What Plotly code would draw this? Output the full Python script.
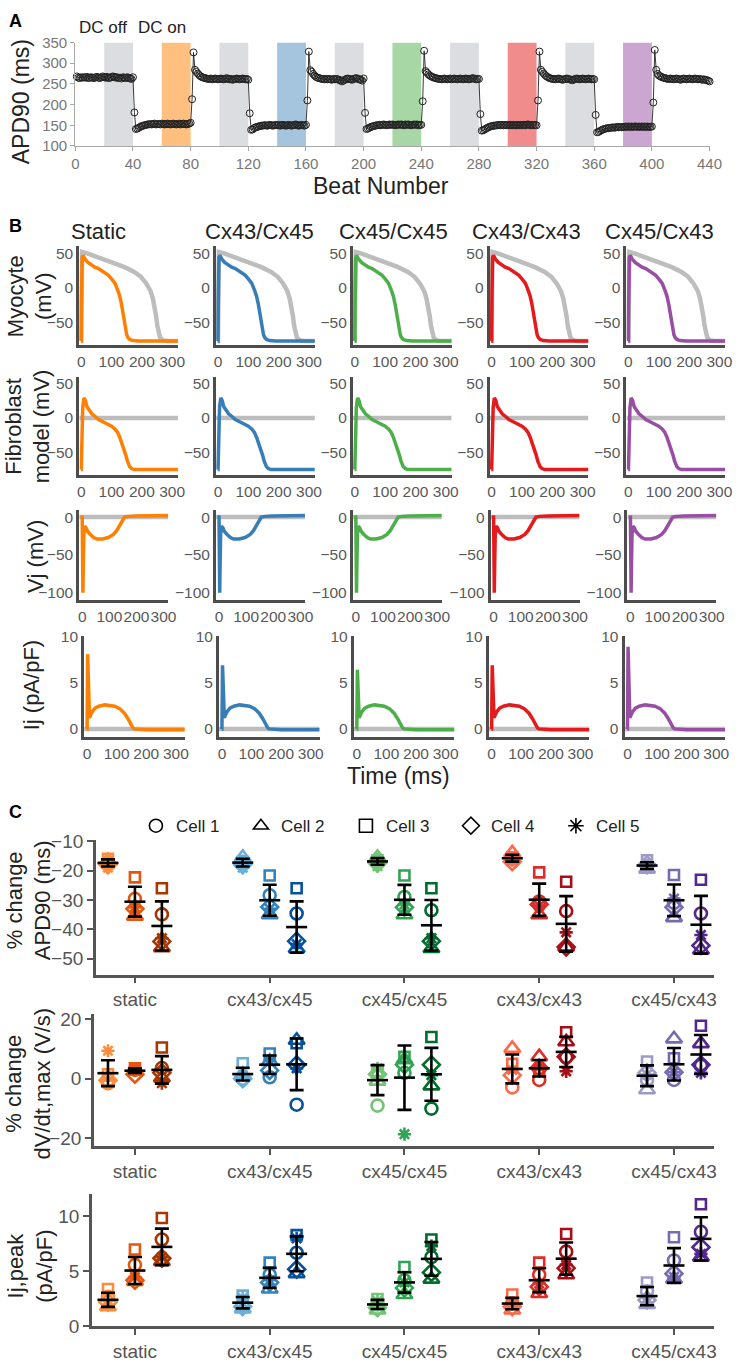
import plotly.graph_objects as go
import numpy as np

W, H = 745, 1368

# ---------------- Panel A data ----------------
beats = list(range(1, 441))
apd90 = (
    [268,265,264,266,265,266,265,267,264,265,266,265,264,266,267,265,264,266,268,266,
     265,267,264,265,266,268,267,265,266,264,265,263,266,265,264,266,265,263,262,266]
  + [181,141,142,144,146,148,149,150,151,152,152,153,152,153,154,152,153,153,152,154,
     153,152,153,154,153,152,153,154,153,152,153,154,152,153,154,153,152,153,154,156]
  + [213,326,284,279,275,271,268,266,265,264,263,262,262,263,261,262,263,262,261,262,
     263,262,261,262,264,262,261,262,260,261,262,263,262,261,262,263,262,261,262,260]
  + [179,139,140,143,145,146,147,148,149,149,150,150,149,150,151,150,149,150,151,150,
     151,149,150,151,150,149,150,151,150,149,150,151,152,150,149,150,151,150,149,151]
  + [210,328,283,279,274,270,267,265,264,263,262,262,261,262,261,262,261,260,262,261,
     262,261,260,258,256,258,260,262,263,262,261,260,262,263,264,262,261,260,258,263]
  + [180,141,142,144,146,147,148,149,150,150,151,150,151,152,151,150,151,152,151,152,
     151,150,151,152,151,152,151,150,152,151,152,151,150,151,152,151,152,150,151,151]
  + [208,330,281,277,273,270,268,266,265,264,263,262,262,261,262,263,262,261,262,263,
     261,262,263,262,261,262,263,262,261,262,263,262,261,262,263,264,262,261,262,262]
  + [177,137,138,140,142,144,146,147,148,149,149,150,150,151,150,151,150,151,150,151,
     150,151,150,151,150,150,151,150,151,150,151,150,151,152,151,150,151,150,151,150]
  + [210,328,284,279,275,271,268,266,264,263,262,262,261,262,263,262,261,260,261,262,
     263,262,261,260,259,261,262,263,262,261,262,263,262,261,262,263,262,261,262,261]
  + [175,133,134,136,138,140,141,142,143,143,144,144,145,144,145,146,145,146,145,146,
     146,147,146,147,146,147,146,147,147,146,147,146,147,146,147,146,147,146,146,147]
  + [205,332,284,274,270,268,266,265,264,263,262,262,263,262,261,262,263,262,261,260,
     262,263,262,261,262,263,262,261,262,263,262,261,262,261,260,261,260,259,258,256]
)
assert len(apd90) == 440
off_windows = [20, 100, 180, 260, 340]
on_windows = [60, 140, 220, 300, 380]
window_len = 20

# ---------------- Panel B data ----------------
connexins = ["Static", "Cx43/Cx45", "Cx45/Cx45", "Cx43/Cx43", "Cx45/Cx43"]
cx_colors = ["#ff7f00", "#377eb8", "#4daf4a", "#e41a1c", "#984ea3"]
band_colors = ["rgba(255,127,0,0.5)", "rgba(55,126,184,0.45)", "rgba(77,175,74,0.5)",
               "rgba(228,26,28,0.5)", "rgba(152,78,163,0.5)"]

myo_off_t = [-1, 0, 1, 3, 20, 68, 110, 143, 175, 197, 215, 229, 236, 242, 247, 251, 256, 260, 266, 272, 285, 320]
myo_off_v = [-77, -77, -20, 52, 50, 42, 36, 30, 23, 16, 6, -5, -15, -27, -41, -55, -66, -72, -75, -76.5, -77, -77]
myo_on_t = [-1, 0, 1, 3, 6, 12, 22, 33, 45, 57, 73, 89, 100, 111, 120, 127, 133, 138, 142, 145, 150, 154, 160, 170, 190, 320]
myo_on_v = [-77, -77, -20, 44, 47, 42, 37, 33, 30, 28, 24, 18.6, 13, 6.7, -3, -12, -24, -36, -48, -58, -68, -72, -75, -76.5, -77, -77]

fib_off_t = [-6, 320]
fib_off_v = [0, 0]
fib_on_t = [-1, 0, 2, 5, 9, 14, 19, 27, 35, 46, 57, 73, 89, 100, 111, 120, 127, 134, 141, 147, 152, 156, 160, 166, 175, 320]
fib_on_v = [-75, -75, -40, 15, 29, 25, 16, 10, 6, 2, -2.3, -6, -9, -12, -16, -21, -28, -36, -44, -54, -62.5, -68, -71, -73.5, -75, -75]

vj_off_t = [-11, 317]
vj_off_v = [0, 0]
vj_on_t = [-1, 0, 1, 2.5, 4, 6, 9, 14, 20, 30, 42, 54, 75, 96, 115, 127, 136, 144, 150, 156, 170, 200, 317]
vj_on_v = [0, 2, -40, -100, -60, -22, -12, -14, -19, -23, -27, -29, -29, -27, -23, -18, -12, -7, -3, 0, 1, 1.5, 2]

ij_off_t = [-10, 330]
ij_off_v = [0, 0]
ij_on_t = [-1, 0, 2, 4, 6, 8, 12, 18, 27, 40, 60, 80, 93, 110, 126, 138, 148, 155, 160, 200, 330]
ij_base_v = [0, 0, None, 4.0, 1.6, 1.2, 1.5, 1.9, 2.25, 2.45, 2.6, 2.55, 2.45, 2.2, 1.7, 1.1, 0.46, 0.1, 0.0, -0.08, -0.1]
ij_spike = [8.1, 6.9, 6.4, 6.9, 8.9]

# ---------------- Panel C data ----------------
categories = ["static", "cx43/cx45", "cx45/cx45", "cx43/cx43", "cx45/cx43"]
shades = [["#fd8d3c", "#e6550d", "#a63603"],
          ["#6baed6", "#3182bd", "#08519c"],
          ["#74c476", "#31a354", "#006d2c"],
          ["#fb6a4a", "#de2d26", "#a50f15"],
          ["#9e9ac8", "#756bb1", "#54278f"]]
cell_names = ["Cell 1", "Cell 2", "Cell 3", "Cell 4", "Cell 5"]

# [category][group][cell 1..5]
apd_change = [
    [[-17.5, -16.5, -16.0, -18.0, -19.0], [-29.6, -35.5, -22.3, -33.0, -32.5], [-34.9, -46.2, -26.0, -44.1, -43.0]],
    [[-17.0, -15.5, -17.0, -18.0, -19.0], [-28.4, -35.0, -21.7, -32.4, -33.0], [-34.6, -46.5, -26.0, -44.0, -45.0]],
    [[-16.5, -15.5, -16.5, -17.5, -18.5], [-29.0, -35.0, -21.7, -32.5, -31.5], [-33.5, -46.5, -26.0, -44.0, -43.0]],
    [[-16.0, -14.0, -15.5, -17.0, -16.5], [-30.5, -35.0, -20.6, -31.5, -32.0], [-33.8, -46.0, -23.8, -46.0, -41.0]],
    [[-18.5, -19.5, -16.5, -18.0, -19.0], [-31.0, -36.0, -21.5, -32.5, -29.5], [-34.6, -47.0, -23.1, -45.5, -41.9]],
]
dvdt_change = [
    [[-1.5, 0.5, 1.5, -0.5, 9.4], [3.0, 2.5, 3.5, 1.5, 3.0], [3.6, 0.3, 10.5, 2.0, -1.5]],
    [[0.0, 1.5, 5.2, 0.0, 1.2], [0.5, 5.8, 8.5, 2.8, 6.0], [-8.7, 12.9, 11.9, 4.7, 3.5]],
    [[-9.0, -0.8, 2.5, 1.5, 3.5], [2.0, 6.4, 7.4, 4.7, -18.6], [-10.0, -2.4, 14.0, 4.7, 1.2]],
    [[-2.9, 10.2, 5.0, 1.2, 3.0], [-0.4, 7.4, 3.0, 3.6, 4.0], [7.2, 12.4, 15.6, 7.4, 2.5]],
    [[-0.4, -3.7, 5.8, 2.0, 1.4], [-0.4, 13.4, 6.9, 2.2, 2.2], [4.4, 11.8, 17.8, 4.7, 2.0]],
]
ij_peak = [
    [[2.7, 1.8, 3.4, 2.2, 2.0], [5.6, 4.1, 7.0, 4.2, 4.5], [7.9, 5.9, 9.85, 6.2, 6.3]],
    [[2.0, 1.6, 2.8, 1.8, 2.6], [4.7, 3.4, 5.8, 4.0, 4.2], [6.7, 4.8, 8.3, 5.2, 8.0]],
    [[2.0, 1.5, 2.5, 1.7, 2.3], [4.2, 2.9, 5.4, 3.5, 4.0], [6.3, 4.3, 7.9, 4.9, 7.3]],
    [[2.1, 1.5, 2.9, 1.8, 2.1], [4.7, 3.0, 5.8, 3.6, 3.9], [6.8, 4.7, 8.4, 5.3, 5.6]],
    [[3.2, 2.0, 4.0, 2.4, 2.2], [6.0, 4.3, 8.1, 4.8, 4.5], [8.6, 6.3, 11.1, 7.2, 6.6]],
]

# ================= build figure =================
FONT = "Liberation Sans, Arial, Helvetica, sans-serif"


def X(px):
    return px / W


def Y(py):
    return 1 - py / H


def ref(i, letter):
    return letter + ("" if i == 1 else str(i))


def axkey(i, letter):
    return letter + "axis" + ("" if i == 1 else str(i))


def ann(text, px, py, size, angle=0, xanchor="center", color="#222", bold=False):
    return dict(text=("<b>%s</b>" % text) if bold else text, x=X(px), y=Y(py), xref="paper", yref="paper",
                xanchor=xanchor, yanchor="middle", textangle=angle, showarrow=False,
                font=dict(size=size, color=color))


fig = go.Figure()
layout = {}
shapes = []
annotations = []

# ---------- Panel A ----------
lightax = dict(showgrid=False, zeroline=False, showline=True, linecolor="#a8a8a8", linewidth=1.3,
               ticks="outside", ticklen=4, tickwidth=1.2, tickcolor="#a8a8a8", tickangle=0,
               tickfont=dict(size=15, color="#777777"))
layout["xaxis"] = dict(domain=[X(73), X(722)], range=[0, 440], tickvals=list(range(0, 441, 40)),
                       anchor="y", **lightax)
layout["yaxis"] = dict(domain=[Y(139), Y(34)], range=[100, 350], tickvals=list(range(100, 351, 50)),
                       anchor="x", **lightax)
for s in off_windows:
    shapes.append(dict(type="rect", xref="x", yref="y", x0=s, x1=s + window_len, y0=100, y1=350,
                       fillcolor="#dcdde0", line=dict(width=0), layer="below"))
for s, c in zip(on_windows, band_colors):
    shapes.append(dict(type="rect", xref="x", yref="y", x0=s, x1=s + window_len, y0=100, y1=350,
                       fillcolor=c, line=dict(width=0), layer="below"))
fig.add_trace(go.Scatter(x=beats, y=apd90, mode="lines+markers", xaxis="x", yaxis="y",
                         line=dict(color="#222222", width=0.9),
                         marker=dict(symbol="circle-open", size=7, color="#222222", line=dict(width=1),
                                     opacity=1),
                         cliponaxis=False, showlegend=False))
annotations += [
    ann("A", 3, 12, 18, xanchor="left", color="black", bold=True),
    ann("DC off", 75, 19, 17, xanchor="left"),
    ann("DC on", 135, 19, 17, xanchor="left"),
    ann("Beat Number", 386, 180, 23),
    ann("APD90 (ms)", 17, 94, 23, angle=-90),
]

# ---------- Panel B ----------
row_dom = [(241, 341), (373, 473), (508, 600), (636, 739)]
row_cols = [[77, 217, 357, 497, 637], [77, 217, 357, 497, 637], [77, 217, 357, 498, 638], [82, 220, 358, 496, 635]]
row_w = [101, 101, 91, 103]
row_xr = [(-6.5, 319), (-6.5, 319), (-11, 317), (-10, 330)]
row_yr = [(-83, 60), (-83, 60), (-110, 10), (-0.9, 10.1)]
row_yt = [[-50, 0, 50], [-50, 0, 50], [-100, -50, 0], [0, 5, 10]]
darkax = dict(showgrid=False, zeroline=False, showline=True, linecolor="#4d4d4d", linewidth=3,
              ticks="", tickangle=0, tickfont=dict(size=15.5, color="#595959"))

for r in range(4):
    for c in range(5):
        i = 2 + r * 5 + c
        x0 = row_cols[r][c]
        layout[axkey(i, "x")] = dict(domain=[X(x0), X(x0 + row_w[r])], range=list(row_xr[r]),
                                     tickvals=[0, 100, 200, 300], anchor=ref(i, "y"), **darkax)
        layout[axkey(i, "y")] = dict(domain=[Y(row_dom[r][1]), Y(row_dom[r][0])], range=list(row_yr[r]),
                                     tickvals=row_yt[r], anchor=ref(i, "x"), **darkax)
        if r == 0:
            gt, gv, ct, cv = myo_off_t, myo_off_v, myo_on_t, myo_on_v
        elif r == 1:
            gt, gv, ct, cv = fib_off_t, fib_off_v, fib_on_t, fib_on_v
        elif r == 2:
            gt, gv, ct, cv = vj_off_t, vj_off_v, vj_on_t, vj_on_v
        else:
            gt, gv, ct = ij_off_t, ij_off_v, ij_on_t
            cv = [ij_spike[c] if v is None else v for v in ij_base_v]
        fig.add_trace(go.Scatter(x=gt, y=gv, mode="lines", line=dict(color="#bdbdbd", width=4.5),
                                 xaxis=ref(i, "x"), yaxis=ref(i, "y"), showlegend=False))
        fig.add_trace(go.Scatter(x=ct, y=cv, mode="lines", line=dict(color=cx_colors[c], width=3.5),
                                 xaxis=ref(i, "x"), yaxis=ref(i, "y"), showlegend=False))

title_left = [67, 204, 341, 477, 613]
for c in range(5):
    annotations.append(ann(connexins[c], title_left[c], 226, 22, xanchor="left"))
annotations += [
    ann("B", 3, 220, 18, xanchor="left", color="black", bold=True),
    ann("Myocyte<br>(mV)", 26, 291, 22, angle=-90),
    ann("Fibroblast<br>model (mV)", 24, 423, 22, angle=-90),
    ann("Vj (mV)", 33, 556, 22, angle=-90),
    ann("Ij (pA/pF)", 29, 686, 22, angle=-90),
    ann("Time (ms)", 404, 778, 23),
]

# ---------- Panel C ----------
group_off = [-0.2, 0.0, 0.2]
sym_sizes = [12, 14, 10, 13, 11]
cell_symbols = ["circle-open", "triangle-up-open", "square-open", "diamond-open", "asterisk-open"]
c_dom = [(843, 980), (1020, 1154), (1203, 1337)]
c_left = [94, 92, 90]
c_yr = [(-55.4, -9.5), (-22.6, 21.7), (0, 12)]
c_yt = [[-50, -40, -30, -20, -10], [-20, 0, 20], [0, 5, 10]]
c_data = [apd_change, dvdt_change, ij_peak]
cax = dict(showgrid=False, zeroline=False, showline=True, linecolor="#555555", linewidth=2.5,
           ticks="outside", ticklen=6, tickwidth=2, tickcolor="#555555", tickangle=0,
           tickfont=dict(size=19, color="#555555"))
for p in range(3):
    i = 22 + p
    left = c_left[p]
    xr0 = -(134 - left) / 138.0
    layout[axkey(i, "x")] = dict(domain=[X(left), X(727)], range=[xr0, 4.30], tickvals=[0, 1, 2, 3, 4],
                                 ticktext=categories, anchor=ref(i, "y"), **cax)
    layout[axkey(i, "y")] = dict(domain=[Y(c_dom[p][1]), Y(c_dom[p][0])], range=list(c_yr[p]),
                                 tickvals=c_yt[p], anchor=ref(i, "x"), **cax)
    mx, my, ms = [], [], []
    for c in range(5):
        for g in range(3):
            vals = c_data[p][c][g]
            xpos = c + group_off[g]
            fig.add_trace(go.Scatter(x=[xpos] * 5, y=vals, mode="markers",
                                     marker=dict(symbol=cell_symbols, size=sym_sizes, color=shades[c][g],
                                                 opacity=1, line=dict(width=2.6, color=shades[c][g])),
                                     xaxis=ref(i, "x"), yaxis=ref(i, "y"), showlegend=False, cliponaxis=False))
            mx.append(xpos)
            my.append(float(np.mean(vals)))
            ms.append(float(np.std(vals, ddof=1)))
    fig.add_trace(go.Scatter(x=mx, y=my, mode="markers",
                             marker=dict(symbol="line-ew-open", size=15, color="black", opacity=1,
                                         line=dict(width=2.6, color="black")),
                             error_y=dict(type="data", array=ms, color="black", thickness=2.6, width=7),
                             xaxis=ref(i, "x"), yaxis=ref(i, "y"), showlegend=False, cliponaxis=False))

for k in range(5):
    fig.add_trace(go.Scatter(x=[None], y=[None], mode="markers", name=cell_names[k],
                             marker=dict(symbol=cell_symbols[k], size=13, color="black", opacity=1,
                                         line=dict(width=1.6, color="black")),
                             xaxis="x22", yaxis="y22", showlegend=True))

annotations += [
    ann("C", 3, 815, 18, xanchor="left", color="black", bold=True),
    ann("% change<br>APD90 (ms)", 25, 904, 22, angle=-90),
    ann("% change<br>dV/dt,max (V/s)", 25, 1090, 22, angle=-90),
    ann("Ij,peak<br>(pA/pF)", 27, 1276, 22, angle=-90),
]

layout.update(dict(
    width=W, height=H, margin=dict(l=0, r=0, t=0, b=0),
    plot_bgcolor="white", paper_bgcolor="white",
    font=dict(family=FONT, color="#222"),
    shapes=shapes, annotations=annotations, showlegend=True,
    legend=dict(orientation="h", x=X(135), y=Y(811), xanchor="left", yanchor="top",
                font=dict(size=17, color="#222"), itemwidth=30, entrywidth=60, entrywidthmode="pixels",
                bgcolor="rgba(0,0,0,0)", itemclick=False),
))
fig.update_layout(**layout)
fig.write_html("out.html", config={"displayModeBar": False},
               post_script="document.body.style.margin='0';")
